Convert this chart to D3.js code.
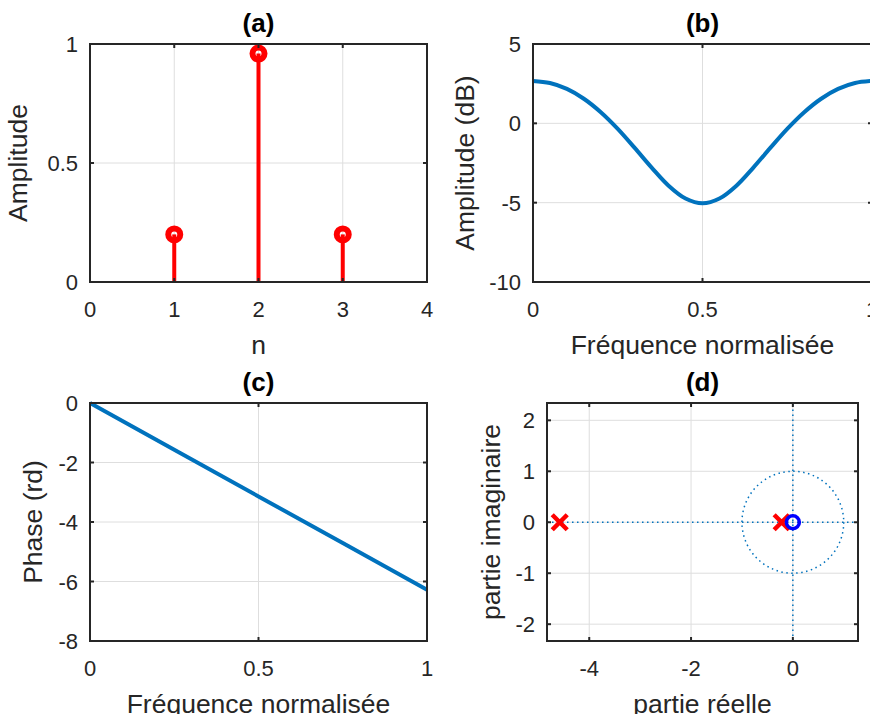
<!DOCTYPE html>
<html>
<head>
<meta charset="utf-8">
<script src="https://cdn.jsdelivr.net/npm/d3@7"></script>
<style>
  body { margin: 0; background: #fff; }
  svg { display: block; font-family: "Liberation Sans", Arial, sans-serif; }
  .tick-label { font-size: 22px; fill: #262626; }
  .axis-label { font-size: 26.5px; fill: #262626; }
  .title { font-size: 26px; font-weight: bold; fill: #000; }
</style>
</head>
<body>
<svg id="fig" width="870" height="714"></svg>
<script>
// (a) impulse response
const stemN = [1, 2, 3];
const stemH = [0.2, 0.96, 0.2];

// (b) amplitude in dB
const freqAmp = [0, 0.05, 0.1, 0.15, 0.2, 0.25, 0.3, 0.35, 0.4, 0.45, 0.5,
                 0.55, 0.6, 0.65, 0.7, 0.75, 0.8, 0.85, 0.9, 0.95, 1];
const ampDb = [2.67, 2.54, 2.17, 1.55, 0.70, -0.35, -1.55, -2.79, -3.93, -4.74, -5.04,
               -4.74, -3.93, -2.79, -1.55, -0.35, 0.70, 1.55, 2.17, 2.54, 2.67];

// (c) phase
const freqPhase = [0, 0.25, 0.5, 0.75, 1];
const phaseRad = [0, -1.57, -3.14, -4.71, -6.28];

// (d) pole / zero plot
const crossRe = [-4.58, -0.22];
const crossIm = [0, 0];
const ringRe = [0];
const ringIm = [0];

// tick labels
const ticksA = { x: [0, 1, 2, 3, 4], y: [0, 0.5, 1] };
const ticksB = { x: [0, 0.5, 1], y: [-10, -5, 0, 5] };
const ticksC = { x: [0, 0.5, 1], y: [-8, -6, -4, -2, 0] };
const ticksD = { x: [-4, -2, 0], y: [-2, -1, 0, 1, 2] };

const svg = d3.select('#fig');
const blue = '#0072BD';

function fmt(v) {
  return v < 0 ? '-' + String(-v) : String(v);
}

// build a MATLAB-like axes, returns scales and the group
function makeAxes(box, xDom, yDom, ticks, title, xlab, ylab, ylabX) {
  const x = d3.scaleLinear().domain(xDom).range([box.x0, box.x1]);
  const y = d3.scaleLinear().domain(yDom).range([box.y1, box.y0]);
  const g = svg.append('g');

  // grid
  g.selectAll('.gx').data(ticks.x).join('line')
    .attr('x1', d => x(d)).attr('x2', d => x(d))
    .attr('y1', box.y0).attr('y2', box.y1)
    .attr('stroke', '#dedede').attr('stroke-width', 1);
  g.selectAll('.gy').data(ticks.y).join('line')
    .attr('y1', d => y(d)).attr('y2', d => y(d))
    .attr('x1', box.x0).attr('x2', box.x1)
    .attr('stroke', '#dedede').attr('stroke-width', 1);

  const plot = svg.append('g');
  const over = svg.append('g');

  // box
  over.append('rect')
    .attr('x', box.x0).attr('y', box.y0)
    .attr('width', box.x1 - box.x0).attr('height', box.y1 - box.y0)
    .attr('fill', 'none').attr('stroke', '#262626').attr('stroke-width', 2);

  // inward ticks on all sides
  const tl = 4;
  ticks.x.forEach(t => {
    over.append('line').attr('x1', x(t)).attr('x2', x(t))
      .attr('y1', box.y1).attr('y2', box.y1 - tl)
      .attr('stroke', '#262626').attr('stroke-width', 2);
    over.append('line').attr('x1', x(t)).attr('x2', x(t))
      .attr('y1', box.y0).attr('y2', box.y0 + tl)
      .attr('stroke', '#262626').attr('stroke-width', 2);
  });
  ticks.y.forEach(t => {
    over.append('line').attr('y1', y(t)).attr('y2', y(t))
      .attr('x1', box.x0).attr('x2', box.x0 + tl)
      .attr('stroke', '#262626').attr('stroke-width', 2);
    over.append('line').attr('y1', y(t)).attr('y2', y(t))
      .attr('x1', box.x1).attr('x2', box.x1 - tl)
      .attr('stroke', '#262626').attr('stroke-width', 2);
  });

  // tick labels
  over.selectAll('.tx').data(ticks.x).join('text')
    .attr('class', 'tick-label')
    .attr('x', d => x(d)).attr('y', box.y1 + 35)
    .attr('text-anchor', 'middle').text(fmt);
  over.selectAll('.ty').data(ticks.y).join('text')
    .attr('class', 'tick-label')
    .attr('x', box.x0 - 12).attr('y', d => y(d) + 8)
    .attr('text-anchor', 'end').text(fmt);

  // title and labels
  over.append('text').attr('class', 'title')
    .attr('x', (box.x0 + box.x1) / 2).attr('y', box.y0 - 12)
    .attr('text-anchor', 'middle').text(title);
  over.append('text').attr('class', 'axis-label')
    .attr('x', (box.x0 + box.x1) / 2).attr('y', box.y1 + 72)
    .attr('text-anchor', 'middle').text(xlab);
  const cy = (box.y0 + box.y1) / 2;
  over.append('text').attr('class', 'axis-label')
    .attr('transform', `translate(${ylabX},${cy}) rotate(-90)`)
    .attr('text-anchor', 'middle').text(ylab);

  return { x, y, plot };
}

// ---- (a) ----
const A = makeAxes({ x0: 90, x1: 427, y0: 44, y1: 282 }, [0, 4], [0, 1], ticksA,
  '(a)', 'n', 'Amplitude', 27);
stemN.forEach((n, i) => {
  A.plot.append('line')
    .attr('x1', A.x(n)).attr('x2', A.x(n))
    .attr('y1', A.y(0)).attr('y2', A.y(stemH[i]))
    .attr('stroke', '#ff0000').attr('stroke-width', 4);
  A.plot.append('circle')
    .attr('cx', A.x(n)).attr('cy', A.y(stemH[i])).attr('r', 6)
    .attr('fill', 'none').attr('stroke', '#ff0000').attr('stroke-width', 6);
});

// ---- (b) ----
const B = makeAxes({ x0: 533, x1: 872, y0: 44, y1: 282 }, [0, 1], [-10, 5], ticksB,
  '(b)', 'Fréquence normalisée', 'Amplitude (dB)', 474);
B.plot.append('path')
  .datum(freqAmp.map((f, i) => [f, ampDb[i]]))
  .attr('d', d3.line().x(d => B.x(d[0])).y(d => B.y(d[1])).curve(d3.curveCatmullRom.alpha(0.5)))
  .attr('fill', 'none').attr('stroke', blue).attr('stroke-width', 4);

// ---- (c) ----
const C = makeAxes({ x0: 90, x1: 427, y0: 403, y1: 641 }, [0, 1], [-8, 0], ticksC,
  '(c)', 'Fréquence normalisée', 'Phase (rd)', 42);
C.plot.append('path')
  .datum(freqPhase.map((f, i) => [f, phaseRad[i]]))
  .attr('d', d3.line().x(d => C.x(d[0])).y(d => C.y(d[1])))
  .attr('fill', 'none').attr('stroke', blue).attr('stroke-width', 4);

// ---- (d) ----
const D = makeAxes({ x0: 547, x1: 858, y0: 403, y1: 641 }, [-4.83, 1.28], [-2.33, 2.34], ticksD,
  '(d)', 'partie réelle', 'partie imaginaire', 500);
const dots = '1.5,3.5';
D.plot.append('line')
  .attr('x1', D.x(-4.83)).attr('x2', D.x(1.28)).attr('y1', D.y(0)).attr('y2', D.y(0))
  .attr('stroke', blue).attr('stroke-width', 1.5).attr('stroke-dasharray', dots);
D.plot.append('line')
  .attr('x1', D.x(0)).attr('x2', D.x(0)).attr('y1', D.y(-2.33)).attr('y2', D.y(2.34))
  .attr('stroke', blue).attr('stroke-width', 1.5).attr('stroke-dasharray', dots);
D.plot.append('ellipse')
  .attr('cx', D.x(0)).attr('cy', D.y(0))
  .attr('rx', D.x(1) - D.x(0)).attr('ry', D.y(0) - D.y(1))
  .attr('fill', 'none').attr('stroke', blue).attr('stroke-width', 1.5).attr('stroke-dasharray', dots);
crossRe.forEach((re, i) => {
  const cx = D.x(re), cy = D.y(crossIm[i]), s = 7.5;
  D.plot.append('path')
    .attr('d', `M${cx - s},${cy - s}L${cx + s},${cy + s}M${cx - s},${cy + s}L${cx + s},${cy - s}`)
    .attr('stroke', '#ff0000').attr('stroke-width', 4.5).attr('fill', 'none');
});
ringRe.forEach((re, i) => {
  D.plot.append('circle')
    .attr('cx', D.x(re)).attr('cy', D.y(ringIm[i])).attr('r', 6.5)
    .attr('fill', 'none').attr('stroke', '#0000ff').attr('stroke-width', 3.5);
});
</script>
</body>
</html>
